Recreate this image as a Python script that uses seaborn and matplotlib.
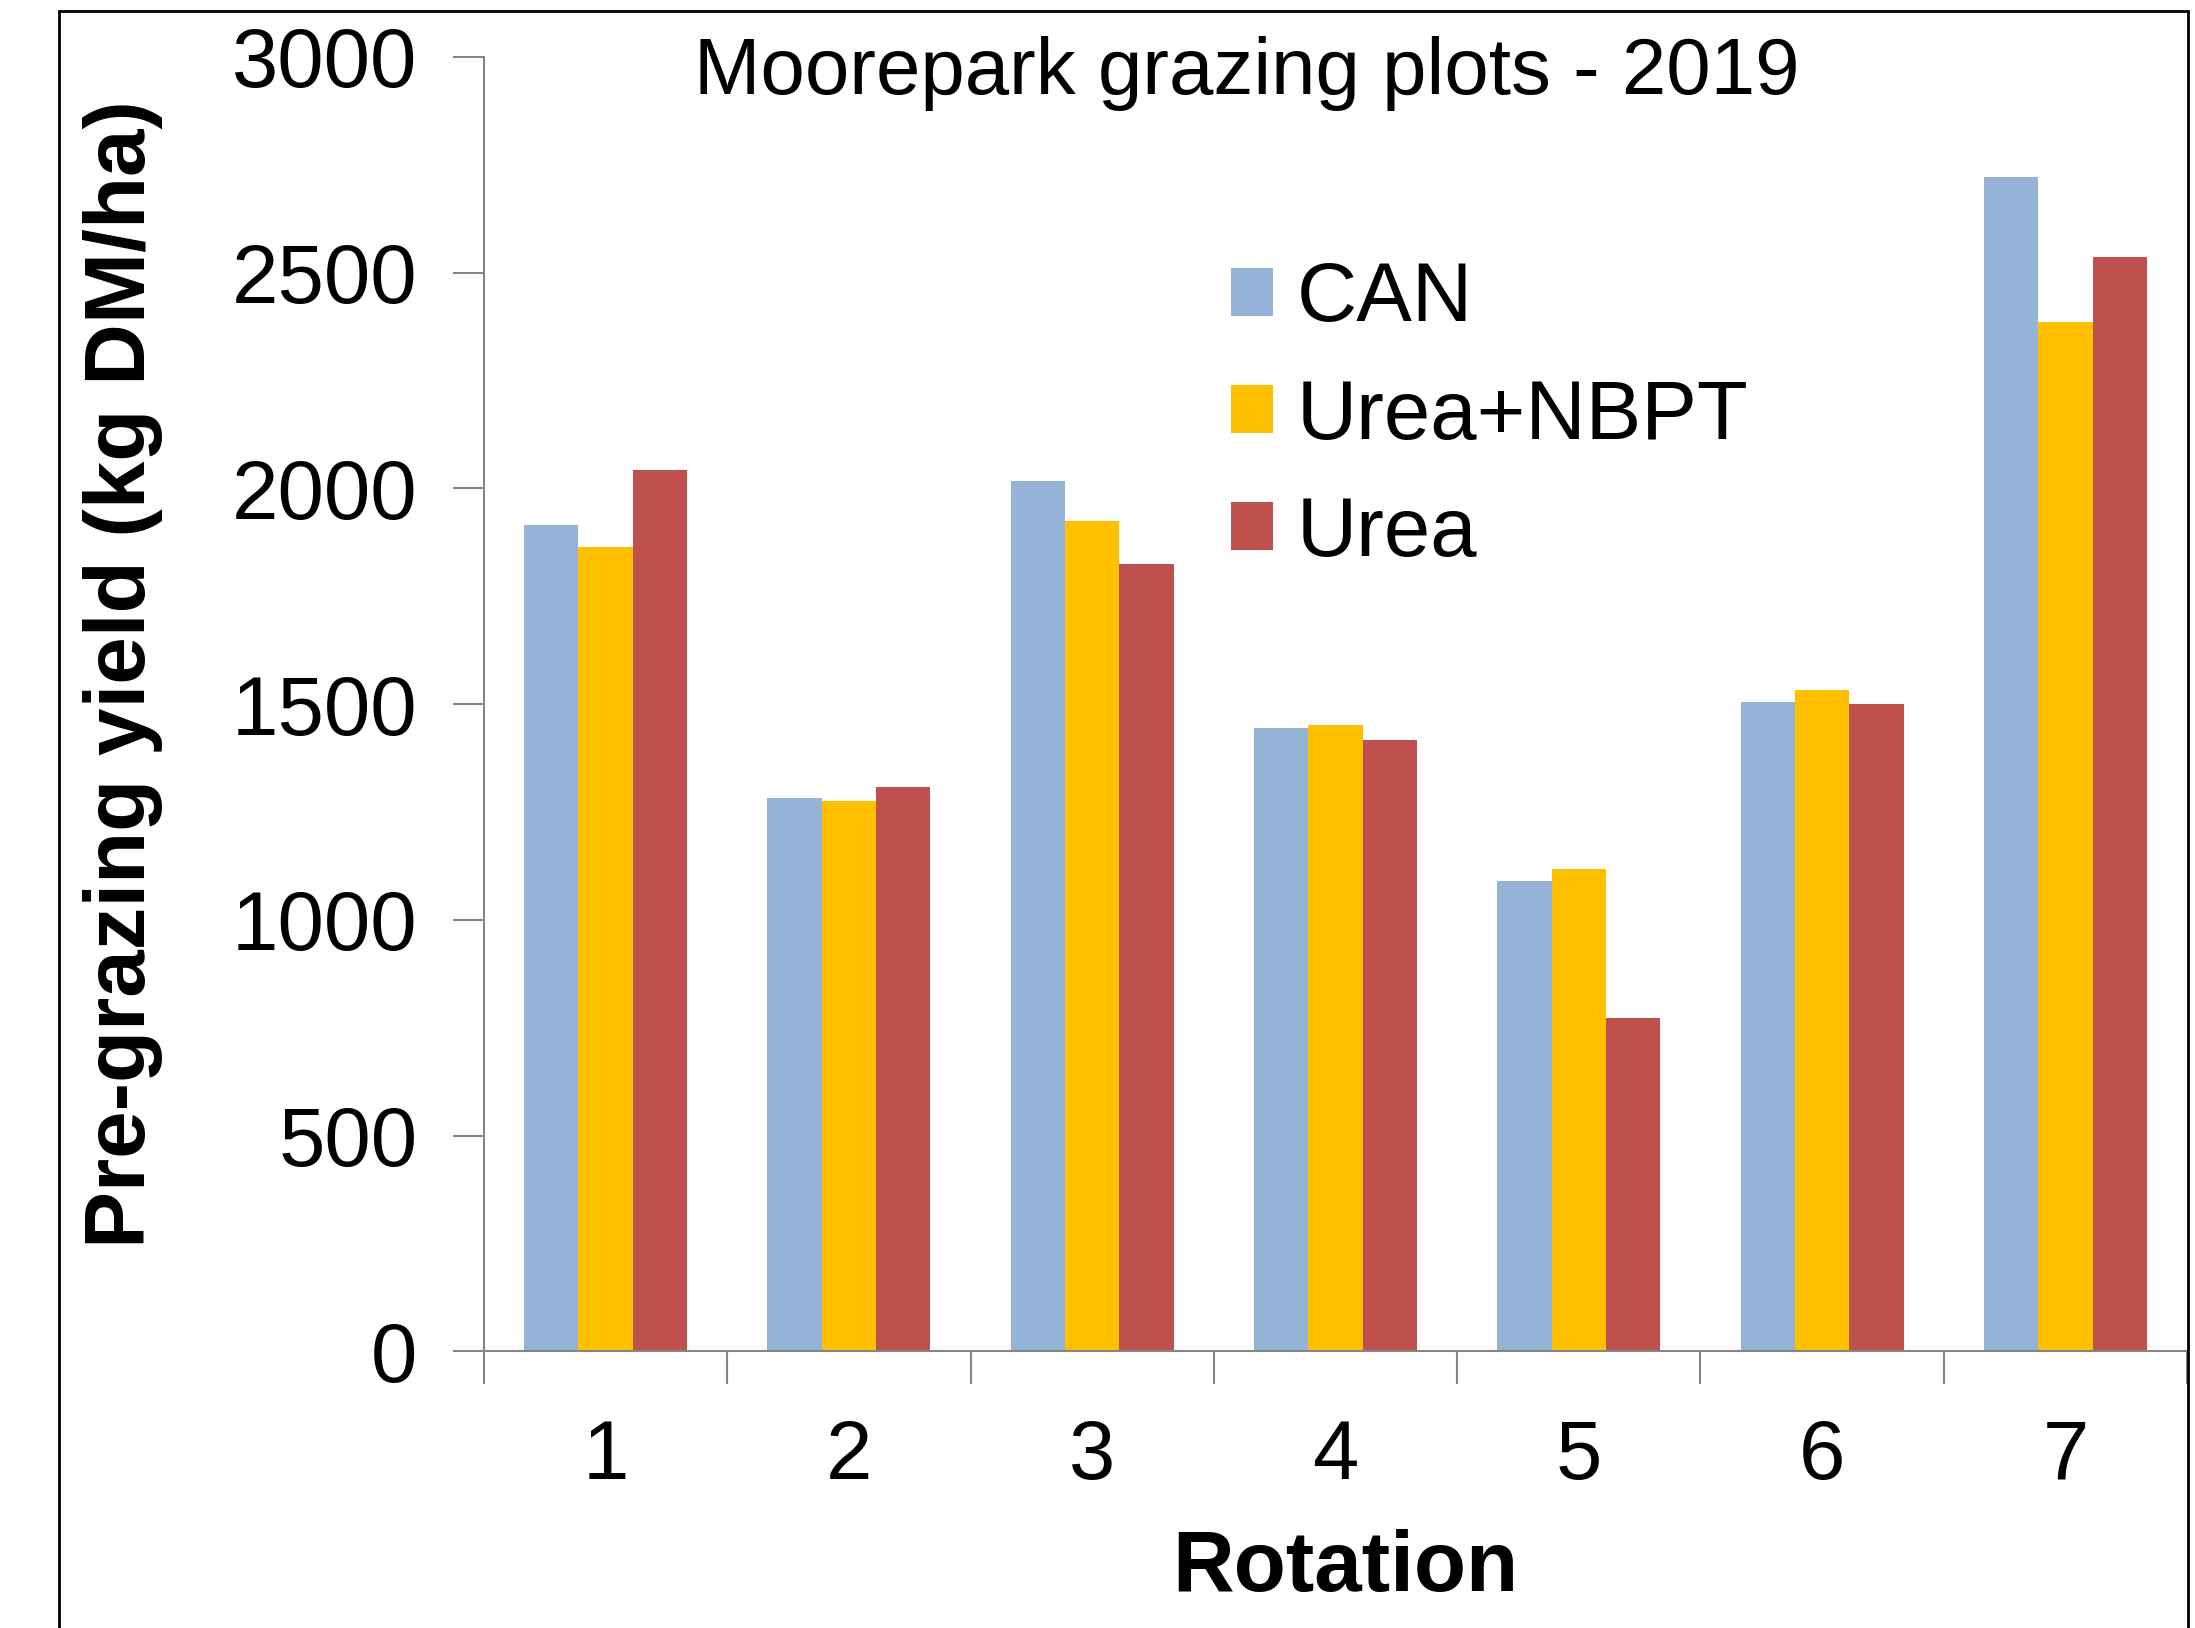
import pandas as pd
import matplotlib.pyplot as plt
import seaborn as sns
from matplotlib.patches import Rectangle, Patch
from matplotlib.ticker import FixedLocator

# Data
rotations = ["1", "2", "3", "4", "5", "6", "7"]
series = ["CAN", "Urea+NBPT", "Urea"]
can = [1916, 1282, 2016, 1445, 1091, 1506, 2721]
urea_nbpt = [1864, 1276, 1925, 1451, 1117, 1532, 2386]
urea = [2042, 1308, 1825, 1416, 773, 1500, 2536]
colors = ["#95B3D7", "#FFC000", "#C0504D"]

df = pd.DataFrame({
    "Rotation": rotations * 3,
    "Treatment": [s for s in series for _ in rotations],
    "Yield": can + urea_nbpt + urea,
})

sns.set_style("white")
plt.rcParams["font.family"] = ["Liberation Sans", "DejaVu Sans"]
plt.rcParams["text.color"] = "black"
plt.rcParams["axes.labelcolor"] = "black"
plt.rcParams["xtick.labelcolor"] = "black"
plt.rcParams["ytick.labelcolor"] = "black"

fig = plt.figure(figsize=(21.95, 16.28), dpi=100)
ax = fig.add_axes([0.2205, 0.170, 0.9964 - 0.2205, 0.965 - 0.170])

sns.barplot(
    data=df,
    x="Rotation",
    y="Yield",
    hue="Treatment",
    hue_order=series,
    palette=colors,
    width=0.67,
    linewidth=0,
    saturation=1,
    ax=ax,
    legend=False,
)

ax.set_ylim(0, 3000)
ax.set_xlim(-0.5, 6.5)
ax.set_yticks(range(0, 3001, 500))
ax.tick_params(axis="y", which="major", length=22, width=1.5, color="#868686",
               labelsize=60, pad=26, direction="out", left=True,
               labelcolor="black")
ax.tick_params(axis="x", which="major", length=0, labelsize=60, pad=48,
               labelcolor="black")
ax.xaxis.set_minor_locator(FixedLocator([i - 0.5 for i in range(8)]))
ax.tick_params(axis="x", which="minor", length=24, width=1.5, color="#868686",
               direction="out", bottom=True)

for side in ["top", "right"]:
    ax.spines[side].set_visible(False)
for side in ["left", "bottom"]:
    ax.spines[side].set_color("#868686")
    ax.spines[side].set_linewidth(1.5)

ax.set_xlabel("Rotation", fontsize=61.5, fontweight="bold", color="black")
ax.xaxis.set_label_coords(0.506, -0.168)
ax.xaxis.label.set_va("center")
ax.set_ylabel("Pre-grazing yield (kg DM/ha)", fontsize=61.5, fontweight="bold",
              va="center", color="black")
ax.yaxis.set_label_coords(-0.212, 0.523)

fig.text(0.568, 0.955, "Moorepark grazing plots - 2019", fontsize=57.5,
         ha="center", va="center", color="black")

handles = [Patch(facecolor=c, edgecolor="none") for c in colors]
fig.legend(
    handles, series,
    loc="upper left",
    bbox_to_anchor=(0.561, 0.840),
    frameon=False,
    fontsize=60,
    handlelength=0.5,
    handleheight=0.5,
    handletextpad=0.28,
    labelspacing=0.47,
    borderpad=0,
    borderaxespad=0,
    labelcolor="black",
)

# outer chart frame
fig.patches.append(Rectangle((0.0269, -0.1), 0.9968 - 0.0269, 0.9932 + 0.1,
                             transform=fig.transFigure, fill=False,
                             edgecolor="black", linewidth=2))

plt.savefig("out.png", dpi=100)
